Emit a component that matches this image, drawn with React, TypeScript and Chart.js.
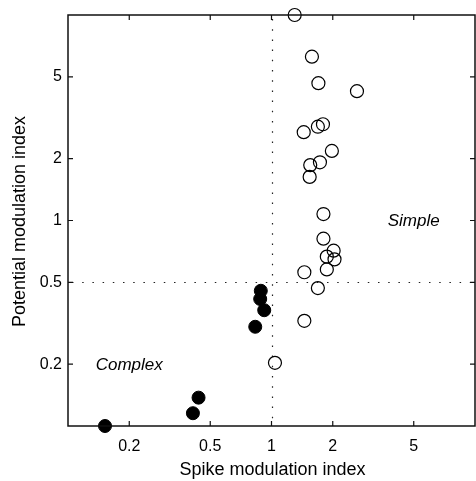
import React, { useEffect, useRef } from "react";
import { Chart, registerables } from "chart.js";

Chart.register(...registerables);

// Simple cells (open circles)
const simpleX = [1.3, 1.58, 1.7, 2.63, 1.44, 1.69, 1.79, 1.98, 1.55, 1.73, 1.54, 1.8, 1.8, 2.02, 1.87, 2.04, 1.87, 1.45, 1.69, 1.45, 1.04];
const simpleY = [10.0, 6.27, 4.66, 4.26, 2.69, 2.86, 2.94, 2.18, 1.86, 1.92, 1.63, 1.075, 0.816, 0.713, 0.667, 0.647, 0.578, 0.56, 0.469, 0.325, 0.203];
// Complex cells (filled circles)
const complexX = [0.886, 0.88, 0.921, 0.832, 0.438, 0.411, 0.152];
const complexY = [0.455, 0.415, 0.366, 0.304, 0.1374, 0.1154, 0.1];

const xTickValues = [0.2, 0.5, 1, 2, 5];
const yTickValues = [0.2, 0.5, 1, 2, 5];
const axisMin = 0.1;
const axisMax = 10;
const thresholdX = 1;
const thresholdY = 0.5;
const xTitle = "Spike modulation index";
const yTitle = "Potential modulation index";
const regionNames = ["Complex", "Simple"];
const regionX = [0.2, 5];
const regionY = [0.2, 1];

const FONT = "'Liberation Sans', Arial, Helvetica, sans-serif";

const decorPlugin = {
  id: "decor",
  beforeDatasetsDraw(chart: any) {
    const { ctx, chartArea: a, scales } = chart;
    const px = scales.x.getPixelForValue(thresholdX);
    const py = scales.y.getPixelForValue(thresholdY);
    ctx.save();
    ctx.strokeStyle = "#222";
    ctx.lineWidth = 1.2;
    ctx.setLineDash([1.5, 8.7]);
    ctx.beginPath();
    ctx.moveTo(Math.round(px) + 0.5, a.top + 4);
    ctx.lineTo(Math.round(px) + 0.5, a.bottom);
    ctx.stroke();
    ctx.beginPath();
    ctx.moveTo(a.left + 4, Math.round(py) + 0.5);
    ctx.lineTo(a.right, Math.round(py) + 0.5);
    ctx.stroke();
    ctx.restore();
  },
  afterDraw(chart: any) {
    const { ctx, chartArea: a, scales } = chart;
    ctx.save();
    // frame
    ctx.strokeStyle = "#111";
    ctx.lineWidth = 1.5;
    ctx.setLineDash([]);
    ctx.strokeRect(a.left, a.top, a.right - a.left, a.bottom - a.top);
    // inward ticks
    const tl = 5;
    ctx.lineWidth = 1.2;
    ctx.beginPath();
    xTickValues.forEach((v) => {
      const x = scales.x.getPixelForValue(v);
      ctx.moveTo(x, a.bottom);
      ctx.lineTo(x, a.bottom - tl);
      ctx.moveTo(x, a.top);
      ctx.lineTo(x, a.top + tl);
    });
    yTickValues.forEach((v) => {
      const y = scales.y.getPixelForValue(v);
      ctx.moveTo(a.left, y);
      ctx.lineTo(a.left + tl, y);
      ctx.moveTo(a.right, y);
      ctx.lineTo(a.right - tl, y);
    });
    ctx.stroke();
    // region labels
    ctx.fillStyle = "#000";
    ctx.font = `italic 17px ${FONT}`;
    ctx.textAlign = "center";
    ctx.textBaseline = "middle";
    regionNames.forEach((t, i) => {
      ctx.fillText(t, scales.x.getPixelForValue(regionX[i]), scales.y.getPixelForValue(regionY[i]) + 1);
    });
    // axis titles
    ctx.font = `18px ${FONT}`;
    ctx.fillText(xTitle, (a.left + a.right) / 2 + 1, 470);
    ctx.translate(20, (a.top + a.bottom) / 2 + 1);
    ctx.rotate(-Math.PI / 2);
    ctx.fillText(yTitle, 0, 0);
    ctx.restore();
  },
};

export default function App() {
  const ref = useRef<HTMLCanvasElement | null>(null);
  useEffect(() => {
    if (!ref.current) return;
    const chart = new Chart(ref.current, {
      type: "scatter",
      data: {
        datasets: [
          {
            label: "Simple",
            data: simpleX.map((x, i) => ({ x, y: simpleY[i] })),
            pointRadius: 6.5,
            pointBorderWidth: 1.2,
            pointBorderColor: "#000",
            pointBackgroundColor: "rgba(0,0,0,0)",
            clip: false as any,
          },
          {
            label: "Complex",
            data: complexX.map((x, i) => ({ x, y: complexY[i] })),
            pointRadius: 6.5,
            pointBorderWidth: 1,
            pointBorderColor: "#000",
            pointBackgroundColor: "#000",
            clip: false as any,
          },
        ],
      },
      options: {
        animation: false,
        responsive: true,
        maintainAspectRatio: false,
        layout: { autoPadding: false, padding: { top: 15, right: 1, left: 0, bottom: 0 } },
        plugins: { legend: { display: false }, tooltip: { enabled: false } },
        scales: {
          x: {
            type: "logarithmic",
            min: axisMin,
            max: axisMax,
            position: "bottom",
            afterBuildTicks: (s: any) => {
              s.ticks = xTickValues.map((v) => ({ value: v }));
            },
            afterFit: (s: any) => {
              s.height = 55;
              s.paddingLeft = 0;
              s.paddingRight = 0;
            },
            grid: { display: false, drawTicks: false },
            border: { display: false },
            ticks: {
              autoSkip: false,
              maxRotation: 0,
              padding: 11,
              color: "#000",
              font: { family: FONT, size: 16 },
              callback: (v: any) => String(v),
            },
          },
          y: {
            type: "logarithmic",
            min: axisMin,
            max: axisMax,
            afterBuildTicks: (s: any) => {
              s.ticks = yTickValues.map((v) => ({ value: v }));
            },
            afterFit: (s: any) => {
              s.width = 68;
              s.paddingTop = 0;
              s.paddingBottom = 0;
            },
            grid: { display: false, drawTicks: false },
            border: { display: false },
            ticks: {
              autoSkip: false,
              padding: 6,
              color: "#000",
              font: { family: FONT, size: 16 },
              callback: (v: any) => String(v),
            },
          },
        },
      },
      plugins: [decorPlugin],
    });
    return () => chart.destroy();
  }, []);
  return (
    <div style={{ position: "fixed", left: 0, top: 0, width: 476, height: 481, background: "#fff" }}>
      <canvas ref={ref} />
    </div>
  );
}
